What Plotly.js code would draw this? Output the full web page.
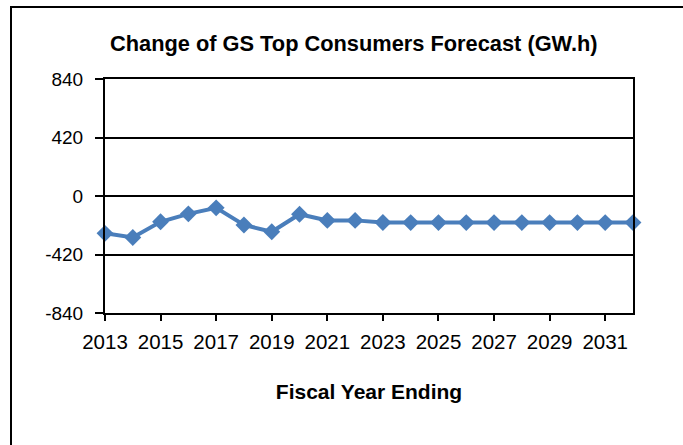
<!DOCTYPE html>
<html>
<head>
<meta charset="utf-8">
<script src="https://cdn.plot.ly/plotly-3.0.1.min.js"></script>
<style>
  html, body { margin: 0; padding: 0; background: #ffffff; }
  #frame { position: absolute; left: 10px; top: 6px; width: 700px; height: 460px;
           border-left: 2px solid #000; border-top: 2px solid #000; }
  #chart { position: absolute; left: 0; top: 0; width: 683px; height: 445px; }
</style>
</head>
<body>
<div id="frame"></div>
<div id="chart"></div>
<script>
const years = [2013,2014,2015,2016,2017,2018,2019,2020,2021,2022,2023,2024,2025,2026,2027,2028,2029,2030,2031,2032];
const changeGWh = [-268,-298,-185,-128,-85,-208,-257,-131,-175,-175,-190,-191,-191,-191,-191,-191,-191,-191,-191,-191];
const yTicks = [-840,-420,0,420,840];
const titleText = "Change of GS Top Consumers Forecast (GW.h)";
const xTitleText = "Fiscal Year Ending";

const font = "Liberation Sans, Arial, sans-serif";

Plotly.newPlot('chart', [{
  x: years,
  y: changeGWh,
  type: 'scatter',
  mode: 'lines+markers',
  line: { color: '#4A7EBB', width: 4 },
  marker: { symbol: 'diamond', size: 13, color: '#4A7EBB' },
  cliponaxis: false,
  hoverinfo: 'x+y'
}], {
  width: 683, height: 445,
  margin: { l: 105, r: 50, t: 79, b: 132 },
  paper_bgcolor: 'rgba(0,0,0,0)',
  plot_bgcolor: '#ffffff',
  showlegend: false,
  font: { family: font, color: '#000', size: 19 },
  title: {
    text: '<b>' + titleText + '</b>',
    font: { family: font, size: 21.8, color: '#000' },
    x: 0.518, xref: 'container', xanchor: 'center',
    y: 1 - 51/445, yref: 'container', yanchor: 'bottom'
  },
  xaxis: {
    type: 'linear',
    range: [2013, 2032],
    tickmode: 'linear', tick0: 2013, dtick: 2,
    ticks: 'outside', ticklen: 6, tickwidth: 2, tickcolor: '#000',
    showgrid: false, zeroline: false,
    showline: true, linecolor: '#000', linewidth: 2, mirror: true,
    tickfont: { family: font, size: 20.5, color: '#000' },
    ticklabelstandoff: 3,
    title: { text: '<b>' + xTitleText + '</b>', font: { family: font, size: 21, color: '#000' }, standoff: 33 }
  },
  yaxis: {
    range: [-840, 840],
    tickmode: 'array', tickvals: yTicks, ticktext: yTicks.map(String),
    ticks: 'outside', ticklen: 8, tickwidth: 2, tickcolor: '#000',
    showgrid: true, gridcolor: '#000', gridwidth: 2,
    zeroline: false,
    showline: true, linecolor: '#000', linewidth: 2, mirror: true,
    tickfont: { family: font, size: 19, color: '#000' },
    ticklabelstandoff: 8
  }
}, { staticPlot: true, displayModeBar: false });
</script>
</body>
</html>
